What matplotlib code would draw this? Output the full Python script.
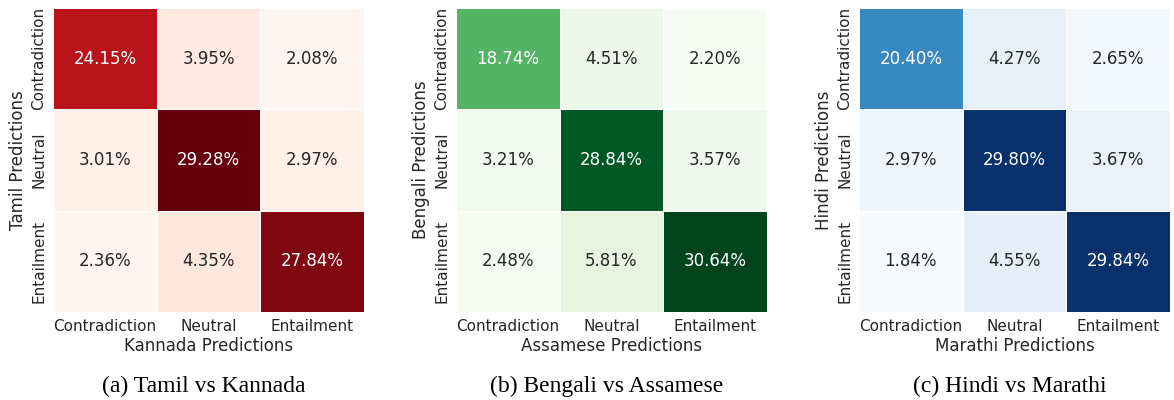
import numpy as np
import seaborn as sns
import matplotlib
matplotlib.use("Agg")
import matplotlib.pyplot as plt

sns.set_theme(style="white")
plt.rcParams['font.family'] = ['DejaVu Sans']

labels = ["Contradiction", "Neutral", "Entailment"]

# rows = first language predictions, cols = second language predictions
tamil_kannada = [[24.15, 3.95, 2.08],
                 [3.01, 29.28, 2.97],
                 [2.36, 4.35, 27.84]]
bengali_assamese = [[18.74, 4.51, 2.20],
                    [3.21, 28.84, 3.57],
                    [2.48, 5.81, 30.64]]
hindi_marathi = [[20.40, 4.27, 2.65],
                 [2.97, 29.80, 3.67],
                 [1.84, 4.55, 29.84]]

panels = [
    (tamil_kannada, "Reds", "Tamil Predictions", "Kannada Predictions", "(a) Tamil vs Kannada"),
    (bengali_assamese, "Greens", "Bengali Predictions", "Assamese Predictions", "(b) Bengali vs Assamese"),
    (hindi_marathi, "Blues", "Hindi Predictions", "Marathi Predictions", "(c) Hindi vs Marathi"),
]

fig = plt.figure(figsize=(11.74, 4.0), dpi=100)
lefts = [53, 456, 859]

for left, (mat, cmap, ylab, xlab, caption) in zip(lefts, panels):
    ax = fig.add_axes([left / 1174, 88 / 400, 311 / 1174, 304 / 400])
    mat = np.array(mat)
    annot = np.array([["%.2f%%" % v for v in row] for row in mat])
    sns.heatmap(mat, annot=annot, fmt="", cmap=cmap, cbar=False,
                linewidths=0.6, linecolor="white", ax=ax,
                xticklabels=labels, yticklabels=labels,
                annot_kws={"size": 12})
    ax.set_xlabel(xlab, fontsize=12, labelpad=2)
    ax.set_ylabel(ylab, fontsize=12, labelpad=3)
    ax.tick_params(axis="both", labelsize=11, length=0, pad=5)
    plt.setp(ax.get_yticklabels(), rotation=90, va="center")
    plt.setp(ax.get_xticklabels(), rotation=0)
    # caption sits under the whole subfigure, a bit left of the axes centre
    cx = (left + 311 / 2 - 5) / 1174
    fig.text(cx, 0.035, caption, ha="center", va="center",
             fontsize=17, family="Liberation Serif", color="black")

fig.savefig("out.png", dpi=100)
